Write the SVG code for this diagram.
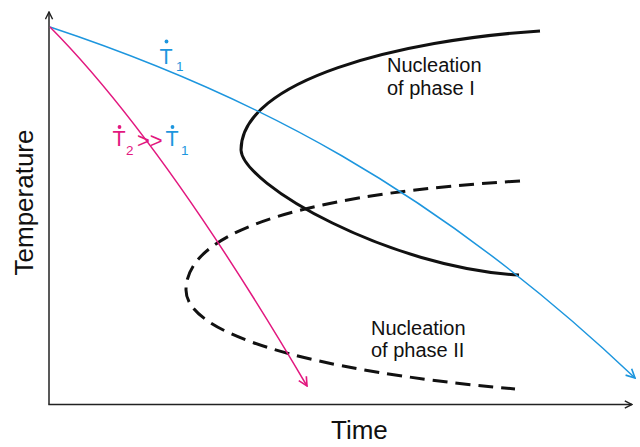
<svg xmlns="http://www.w3.org/2000/svg" width="640" height="447" viewBox="0 0 640 447">
<defs>
<style>
.ax{fill:none;stroke:#222;stroke-width:1.5}
.blk{fill:none;stroke:#111;stroke-width:3}
.dash{fill:none;stroke:#111;stroke-width:3;stroke-dasharray:15 8}
.blue{fill:none;stroke:#1d96de;stroke-width:1.5}
.pink{fill:none;stroke:#e2187f;stroke-width:1.5}
.t{font-family:"Liberation Sans",Arial,sans-serif}
.lab{font-size:20px;fill:#111}
.ti{font-size:26px;fill:#111}
.cb{fill:#1d96de}
.cp{fill:#e2187f}
</style>
<marker id="ak" viewBox="0 0 10 10" refX="9" refY="5" markerWidth="9" markerHeight="9" markerUnits="userSpaceOnUse" orient="auto"><path d="M1,1 L9,5 L1,9" fill="none" stroke="#222" stroke-width="1.6"/></marker>
<marker id="ab" viewBox="0 0 10 10" refX="9" refY="5" markerWidth="11" markerHeight="11" markerUnits="userSpaceOnUse" orient="auto"><path d="M1,1 L9,5 L1,9" fill="none" stroke="#1d96de" stroke-width="1.5"/></marker>
<marker id="ap" viewBox="0 0 10 10" refX="9" refY="5" markerWidth="11" markerHeight="11" markerUnits="userSpaceOnUse" orient="auto"><path d="M1,1 L9,5 L1,9" fill="none" stroke="#e2187f" stroke-width="1.5"/></marker>
</defs>
<rect width="640" height="447" fill="#fff"/>
<g id="axes">
<path class="ax" d="M49,404.5 L49,12" marker-end="url(#ak)"/>
<path class="ax" d="M48.3,404.5 L632,404.5" marker-end="url(#ak)"/>
</g>
<g id="phase1-curve">
<path class="blk" d="M540,31 C400,40 241,80 241,150 C243,185 390,268 519,275"/>
</g>
<g id="phase2-curve">
<path class="dash" d="M520,181 C330,192 186,225 186,290 C186,332 300,370 515,389"/>
</g>
<g id="cooling-curves">
<path class="blue" d="M50,27 C249,93 435,188 635,378" marker-end="url(#ab)"/>
<path class="pink" d="M50,27 Q163,141 307,386" marker-end="url(#ap)"/>
</g>
<g id="labels" class="t">
<text class="ti" transform="translate(33,202.5) rotate(-90)" text-anchor="middle">Temperature</text>
<text class="ti" x="331" y="439">Time</text>
<text class="lab" x="387" y="72">Nucleation</text>
<text class="lab" x="387" y="95">of phase I</text>
<text class="lab" x="371" y="335">Nucleation</text>
<text class="lab" x="371" y="357">of phase II</text>
</g>
<g id="rate1" class="t">
<text x="159.5" y="64" font-size="21.5" class="cb">T</text>
<circle cx="166.5" cy="41.5" r="1.9" class="cb"/>
<text x="176" y="71" font-size="13.5" class="cb">1</text>
</g>
<g id="rate2" class="t">
<text x="112.5" y="146" font-size="21.5" class="cp">T</text>
<circle cx="119.5" cy="127" r="1.9" class="cp"/>
<text x="126" y="155" font-size="13.5" class="cp">2</text>
<text x="137" y="148" font-size="22" class="cp">&gt;&gt;</text>
<text x="165.5" y="146" font-size="21.5" class="cb">T</text>
<circle cx="172.5" cy="127" r="1.9" class="cb"/>
<text x="181" y="155" font-size="13.5" class="cb">1</text>
</g>
</svg>
